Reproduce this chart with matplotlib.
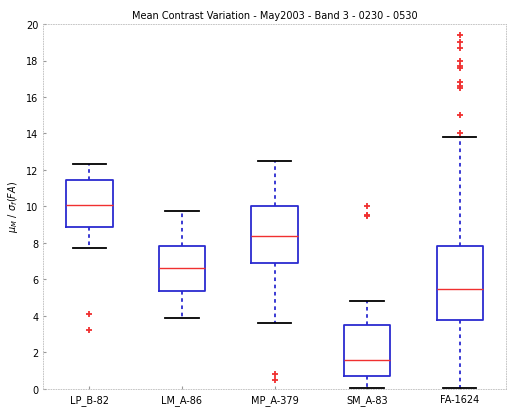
import numpy as np
import matplotlib.pyplot as plt

# box statistics
labels = ['LP_B-82', 'LM_A-86', 'MP_A-379', 'SM_A-83', 'FA-1624']
whislo = [7.75, 3.9, 3.6, 0.05, 0.05]
q1 = [8.85, 5.35, 6.9, 0.7, 3.8]
med = [10.1, 6.6, 8.4, 1.6, 5.45]
q3 = [11.45, 7.85, 10.05, 3.5, 7.85]
whishi = [12.35, 9.75, 12.5, 4.8, 13.8]
fliers = [
    [4.1, 3.25],
    [],
    [0.8, 0.5],
    [10.0, 9.55, 9.5],
    [14.0, 15.0, 16.5, 16.6, 16.8, 17.6, 17.7, 18.0, 18.7, 19.0, 19.4],
]

stats = []
for i in range(len(labels)):
    stats.append(dict(label=labels[i], whislo=whislo[i], q1=q1[i], med=med[i],
                      q3=q3[i], whishi=whishi[i], fliers=fliers[i]))

fig = plt.figure(figsize=(5.07, 4.10), dpi=100)
ax = fig.add_axes([0.085, 0.049, 0.913, 0.89])

ax.bxp(stats, widths=0.5, capwidths=0.36, showfliers=True,
       boxprops=dict(color='#2b2bd0', linewidth=1.3),
       whiskerprops=dict(color='#2b2bd0', linewidth=1.3, linestyle=(0, (2, 2))),
       capprops=dict(color='black', linewidth=1.3),
       medianprops=dict(color='#f03030', linewidth=1.0),
       flierprops=dict(marker='+', markeredgecolor='#f03030', markersize=4,
                       markeredgewidth=1.3, linestyle='none'))

ax.set_xlim(0.5, 5.5)
ax.set_ylim(0, 20)
ax.set_yticks(np.arange(0, 21, 2))
ax.tick_params(direction='in', labelsize=7, length=2, color='#999999')
for s in ax.spines.values():
    s.set_color('#bbbbbb')
    s.set_linestyle((0, (1, 2)))
    s.set_linewidth(0.6)

ax.set_title('Mean Contrast Variation - May2003 - Band 3 - 0230 - 0530', fontsize=7, pad=4)
ax.set_ylabel(r'$\mu_M\ /\ \sigma_f(FA)$', fontsize=7)

fig.savefig('out.png', dpi=100)
